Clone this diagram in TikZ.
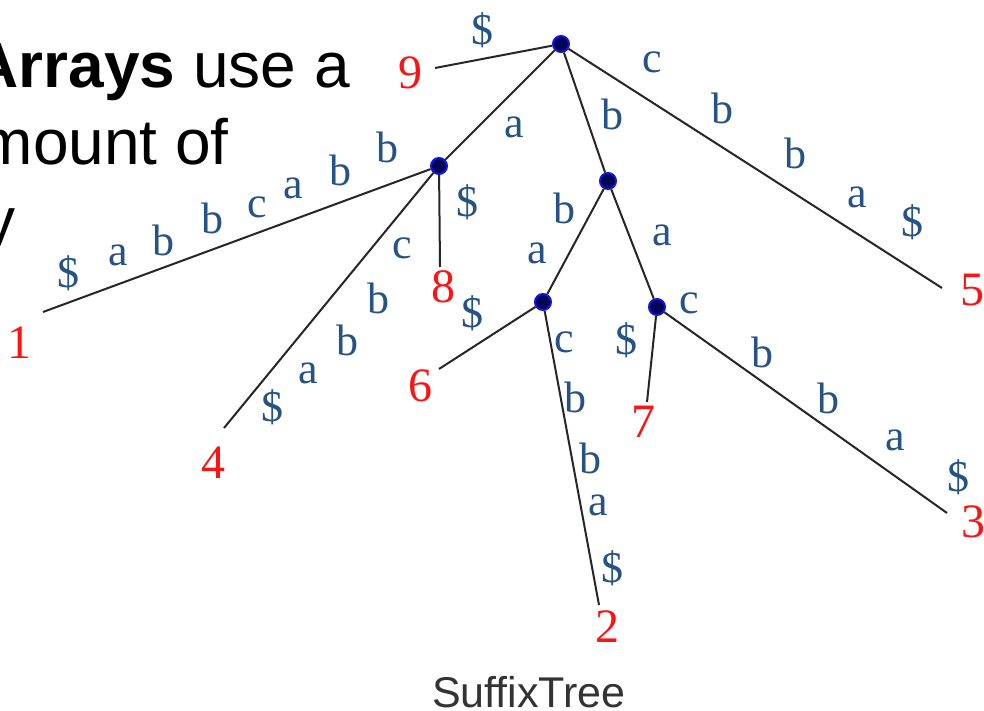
\documentclass[tikz,border=0pt]{standalone}
\usepackage{fontspec}
\setmainfont{Liberation Serif}
\newfontfamily\slidefont{Liberation Sans}
\usetikzlibrary{positioning}
\definecolor{labblue}{RGB}{38,82,132}
\definecolor{sufred}{RGB}{250,20,20}
\definecolor{dotfill}{RGB}{5,5,85}
\definecolor{dotrim}{RGB}{20,20,225}

\begin{document}
\begin{tikzpicture}[x=1pt, y=-1pt,
  every node/.style={inner sep=0pt},
  inner/.style={circle, fill=dotfill, draw=dotrim, line width=2pt, minimum size=16pt},
  edge/.style={draw=black!85, line width=2pt},
  lab/.style={text=labblue, font=\fontsize{44}{48}\selectfont},
  suf/.style={text=sufred, font=\fontsize{48}{52}\selectfont},
  slide/.style={font=\slidefont\fontsize{64}{70}\selectfont, anchor=base east},
]
  \fill[white] (0,0) rectangle (984,711);
  \useasboundingbox (0,0) rectangle (984,711);

  % Slide text behind the picture
  \node[slide] (line1) at (350,88)  {\textbf{Arrays} use a};
  \node[slide] (line2) at (229,165) {mount of};
  \node[slide] (line3) at (16,242)  {y};

  % Ends of the leaf edges
  \coordinate (l1) at (43,312);
  \coordinate (l2) at (599,605);
  \coordinate (l3) at (947,513);
  \coordinate (l4) at (224,428);
  \coordinate (l5) at (942,288);
  \coordinate (l6) at (439,369);
  \coordinate (l7) at (647,402);
  \coordinate (l8) at (440,267);
  \coordinate (l9) at (435,68);

  % Internal nodes
  \node[inner] (root) at (561,44)  {};
  \node[inner] (na)   at (439,166) {};
  \node[inner] (nb)   at (608,181) {};
  \node[inner] (nbba) at (543,302) {};
  \node[inner] (nba)  at (657,307) {};

  % Edges
  \draw[edge] (root) -- (l9);
  \draw[edge] (root) -- (na);
  \draw[edge] (root) -- (nb);
  \draw[edge] (root) -- (l5);
  \draw[edge] (na) -- (l1);
  \draw[edge] (na) -- (l4);
  \draw[edge] (na) -- (l8);
  \draw[edge] (nb) -- (nbba);
  \draw[edge] (nb) -- (nba);
  \draw[edge] (nbba) -- (l6);
  \draw[edge] (nbba) -- (l2);
  \draw[edge] (nba) -- (l7);
  \draw[edge] (nba) -- (l3);

  % Suffix numbers at the leaves
  \node[suf] (s1) at (20,343)  {1};
  \node[suf] (s2) at (607,627) {2};
  \node[suf] (s3) at (973,522) {3};
  \node[suf] (s4) at (213,463) {4};
  \node[suf] (s5) at (972,290) {5};
  \node[suf] (s6) at (420,386) {6};
  \node[suf] (s7) at (643,422) {7};
  \node[suf] (s8) at (443,287) {8};
  \node[suf] (s9) at (410,73)  {9};

  % Edge letters
  \node[lab] (r9)  at (482,30)  {\$};
  \node[lab] (ra)  at (514,127) {a};
  \node[lab] (rb)  at (612,114) {b};
  \node[lab] (r5a) at (652,62)  {c};
  \node[lab] (r5b) at (722,108) {b};
  \node[lab] (r5c) at (795,153) {b};
  \node[lab] (r5d) at (857,197) {a};
  \node[lab] (r5e) at (912,222) {\$};

  \node[lab] (a1a) at (387,147) {b};
  \node[lab] (a1b) at (340,170) {b};
  \node[lab] (a1c) at (293,188) {a};
  \node[lab] (a1d) at (257,207) {c};
  \node[lab] (a1e) at (212,218) {b};
  \node[lab] (a1f) at (163,240) {b};
  \node[lab] (a1g) at (118,255) {a};
  \node[lab] (a1h) at (68,273)  {\$};
  \node[lab] (a8)  at (467,202) {\$};
  \node[lab] (a4a) at (402,248) {c};
  \node[lab] (a4b) at (378,298) {b};
  \node[lab] (a4c) at (347,340) {b};
  \node[lab] (a4d) at (308,373) {a};
  \node[lab] (a4e) at (272,407) {\$};

  \node[lab] (bba1) at (564,208) {b};
  \node[lab] (bba2) at (537,253) {a};
  \node[lab] (bba)  at (662,235) {a};

  \node[lab] (c6)  at (472,313) {\$};
  \node[lab] (c2a) at (564,342) {c};
  \node[lab] (c2b) at (575,397) {b};
  \node[lab] (c2c) at (590,458) {b};
  \node[lab] (c2d) at (598,505) {a};
  \node[lab] (c2e) at (612,568) {\$};

  \node[lab] (d7)  at (626,340) {\$};
  \node[lab] (d3a) at (689,303) {c};
  \node[lab] (d3b) at (762,352) {b};
  \node[lab] (d3c) at (828,398) {b};
  \node[lab] (d3d) at (895,440) {a};
  \node[lab] (d3e) at (958,477) {\$};

  % Caption
  \node[font=\slidefont\fontsize{43}{48}\selectfont, text=black!80, anchor=base] (cap) at (529,707) {SuffixTree};
\end{tikzpicture}
\end{document}
